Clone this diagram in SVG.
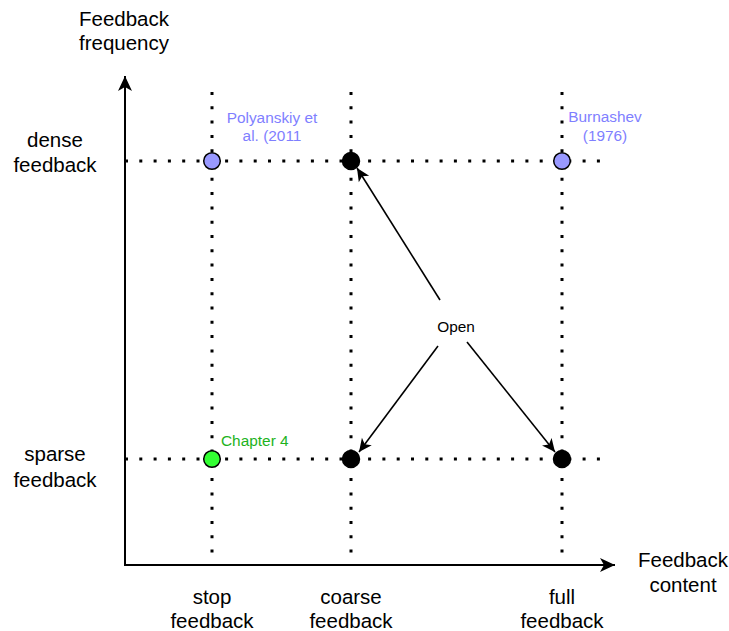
<svg xmlns="http://www.w3.org/2000/svg" width="729" height="631" viewBox="0 0 729 631">
<style>
text{font-family:"Liberation Sans",Arial,sans-serif;fill:#000}
.big{font-size:20.5px;text-anchor:middle}
.small{font-size:15.4px}
.blue{fill:#7F7FFF;text-anchor:middle}
.grid{stroke:#000;stroke-width:3;stroke-dasharray:3 11.3;fill:none}
.axis{stroke:#000;stroke-width:2;fill:none}
.arr{stroke:#000;stroke-width:1.6;fill:none}
.pt{stroke:#000;stroke-width:1.5}
</style>
<defs>
<marker id="ah" viewBox="0 0 16 16" refX="15" refY="8" markerWidth="16" markerHeight="16" markerUnits="userSpaceOnUse" orient="auto">
<path d="M0,1 L15,8 L0,15 L4,8 Z" fill="#000"/>
</marker>
<marker id="ahs" viewBox="0 0 16 16" refX="15" refY="8" markerWidth="14" markerHeight="14" markerUnits="userSpaceOnUse" orient="auto">
<path d="M0,1 L15,8 L0,15 L4,8 Z" fill="#000"/>
</marker>
</defs>
<g id="grid">
<line class="grid" x1="212" y1="92" x2="212" y2="565"/>
<line class="grid" x1="351" y1="92" x2="351" y2="565"/>
<line class="grid" x1="562" y1="92" x2="562" y2="565"/>
<line class="grid" x1="125" y1="161" x2="606" y2="161"/>
<line class="grid" x1="125" y1="459" x2="606" y2="459"/>
</g>
<g id="axes">
<line class="axis" x1="125" y1="566" x2="125" y2="76" marker-end="url(#ah)"/>
<line class="axis" x1="124" y1="565" x2="615" y2="565" marker-end="url(#ah)"/>
</g>
<g id="connectors">
<line class="arr" x1="440" y1="300" x2="357" y2="168" marker-end="url(#ahs)"/>
<line class="arr" x1="438" y1="346" x2="359" y2="452" marker-end="url(#ahs)"/>
<line class="arr" x1="467" y1="342" x2="555" y2="452" marker-end="url(#ahs)"/>
</g>
<g id="p-polyanskiy"><circle class="pt" cx="212" cy="161" r="8.3" fill="#9999FF"/></g>
<g id="p-coarse-dense"><circle class="pt" cx="351" cy="161" r="8.5" fill="#000"/></g>
<g id="p-burnashev"><circle class="pt" cx="562" cy="161" r="8.3" fill="#9999FF"/></g>
<g id="p-chapter4"><circle class="pt" cx="212" cy="459" r="8.3" fill="#33FF33"/></g>
<g id="p-coarse-sparse"><circle class="pt" cx="351" cy="459" r="8.5" fill="#000"/></g>
<g id="p-full-sparse"><circle class="pt" cx="562" cy="459" r="8.5" fill="#000"/></g>
<g id="labels">
<text class="big" x="124" y="26">Feedback</text>
<text class="big" x="124" y="50">frequency</text>
<text class="big" x="55" y="147">dense</text>
<text class="big" x="55" y="172">feedback</text>
<text class="big" x="55" y="461">sparse</text>
<text class="big" x="55" y="487">feedback</text>
<text class="big" x="212" y="604">stop</text>
<text class="big" x="212" y="628">feedback</text>
<text class="big" x="351" y="604">coarse</text>
<text class="big" x="351" y="628">feedback</text>
<text class="big" x="562" y="604">full</text>
<text class="big" x="562" y="628">feedback</text>
<text class="big" x="683" y="567">Feedback</text>
<text class="big" x="683" y="592">content</text>
<text class="small blue" x="272" y="123">Polyanskiy et</text>
<text class="small blue" x="272" y="141">al. (2011</text>
<text class="small blue" x="605" y="122">Burnashev</text>
<text class="small blue" x="605" y="141">(1976)</text>
<text class="small" x="221" y="446" fill="#1DB31D" style="fill:#1DB31D">Chapter 4</text>
<text class="small" x="456" y="332" text-anchor="middle">Open</text>
</g>
</svg>
